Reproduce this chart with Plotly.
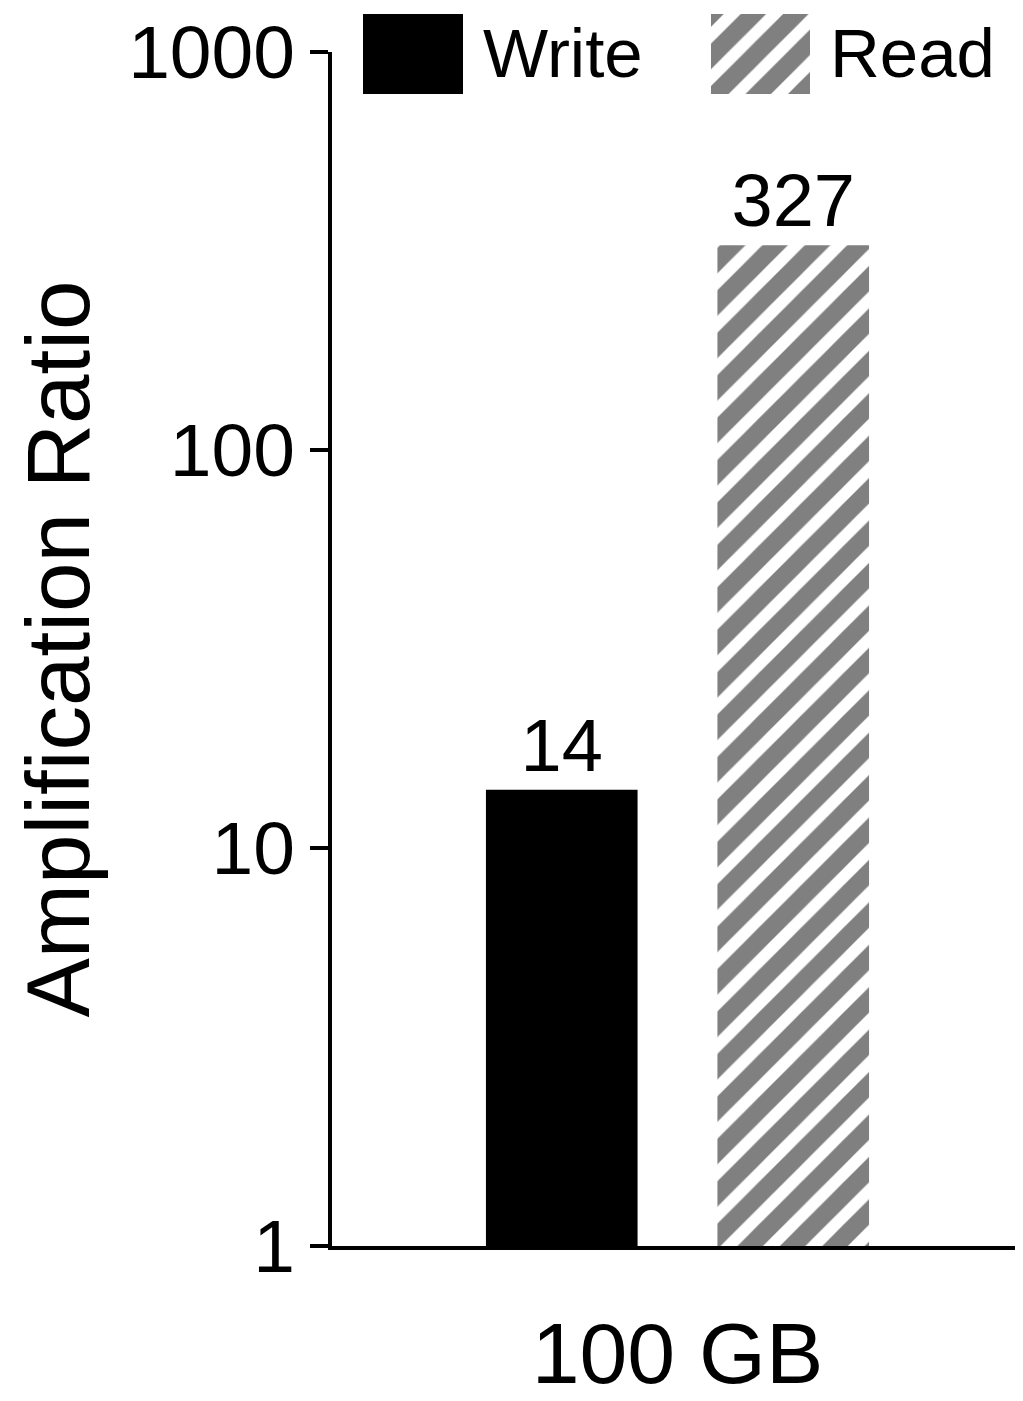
import plotly.graph_objects as go

categories = ["100 GB"]
write_values = [14]
read_values = [327]
series_names = ["Write", "Read"]
tick_values = [1, 10, 100, 1000]
tick_labels = ["1", "10", "100", "1000"]

FONT = "Liberation Sans, Arial, Helvetica, sans-serif"
GRAY = "#808080"

# page has an 8px body margin; figure sized to fit the window
OFF = 8
W, H = 1023 - OFF, 1401 - OFF
mt, mb, ml, mr = 2, 155, 332 - OFF, 0
ph = H - mt - mb
plot_top_px = 52 - OFF
ydom_top = (H - mb - plot_top_px) / ph

hatch = dict(shape="/", fgcolor=GRAY, bgcolor="white", fgopacity=1,
             size=30, solidity=0.6)

fig = go.Figure()
fig.add_trace(go.Bar(
    x=categories, y=write_values, name=series_names[0],
    marker=dict(color="black", line=dict(width=0)),
    text=[str(v) for v in write_values], textposition="outside",
    textfont=dict(size=74, color="black", family=FONT),
    cliponaxis=False, showlegend=False,
))
fig.add_trace(go.Bar(
    x=categories, y=read_values, name=series_names[1],
    marker=dict(color="white", line=dict(width=0), pattern=hatch),
    text=[str(v) for v in read_values], textposition="outside",
    textfont=dict(size=74, color="black", family=FONT),
    cliponaxis=False, showlegend=False,
))

# Legend proxies (large swatches) on separate small axes
def ypaper(px):
    return (H - mb - (px - OFF)) / ph

pw = W - ml - mr
def xpaper(px):
    return (px - OFF - ml) / pw

leg_y = [ypaper(94), ypaper(14)]
swatches = [(363, 463), (711, 810)]
fig.add_trace(go.Bar(x=[0], y=[1], xaxis="x2", yaxis="y2", width=[1],
                     marker=dict(color="black", line=dict(width=0)),
                     showlegend=False, hoverinfo="skip"))
fig.add_trace(go.Bar(x=[0], y=[1], xaxis="x3", yaxis="y3", width=[1],
                     marker=dict(color="white", line=dict(width=0), pattern=hatch),
                     showlegend=False, hoverinfo="skip"))

hidden = dict(visible=False, fixedrange=True, automargin=False)
fig.update_layout(
    xaxis2=dict(domain=[xpaper(swatches[0][0]), xpaper(swatches[0][1])], range=[-0.5, 0.5], anchor="y2", **hidden),
    yaxis2=dict(domain=leg_y, range=[0, 1], anchor="x2", **hidden),
    xaxis3=dict(domain=[xpaper(swatches[1][0]), xpaper(swatches[1][1])], range=[-0.5, 0.5], anchor="y3", **hidden),
    yaxis3=dict(domain=leg_y, range=[0, 1], anchor="x3", **hidden),
)

for name, (x0, x1) in zip(series_names, swatches):
    fig.add_annotation(text=name, xref="paper", yref="paper",
                       x=xpaper(x1 + 18), y=(leg_y[0] + leg_y[1]) / 2,
                       xanchor="left", yanchor="middle", showarrow=False,
                       font=dict(size=69, color="black", family=FONT))

fig.update_layout(
    width=W, height=H,
    margin=dict(l=ml, r=mr, t=mt, b=mb, pad=0, autoexpand=False),
    paper_bgcolor="white", plot_bgcolor="white",
    barmode="group", bargap=0.33, bargroupgap=0.345,
    showlegend=False,
    font=dict(family=FONT, color="black"),
    xaxis=dict(
        showline=True, linecolor="black", linewidth=4, automargin=False,
        ticks="", tickfont=dict(size=86, family=FONT, color="black"),
        ticklabelstandoff=30, showgrid=False, zeroline=False,
    ),
    yaxis=dict(
        type="log", range=[0, 3], domain=[0, ydom_top], automargin=False,
        tickvals=tick_values, ticktext=tick_labels,
        showline=True, linecolor="black", linewidth=4,
        ticks="outside", ticklen=18, tickwidth=4, tickcolor="black",
        tickfont=dict(size=75, family=FONT, color="black"),
        showgrid=False, zeroline=False,
        title=dict(text="Amplification Ratio", font=dict(size=89, family=FONT, color="black"), standoff=35),
    ),
)

fig.write_html("out.html")
